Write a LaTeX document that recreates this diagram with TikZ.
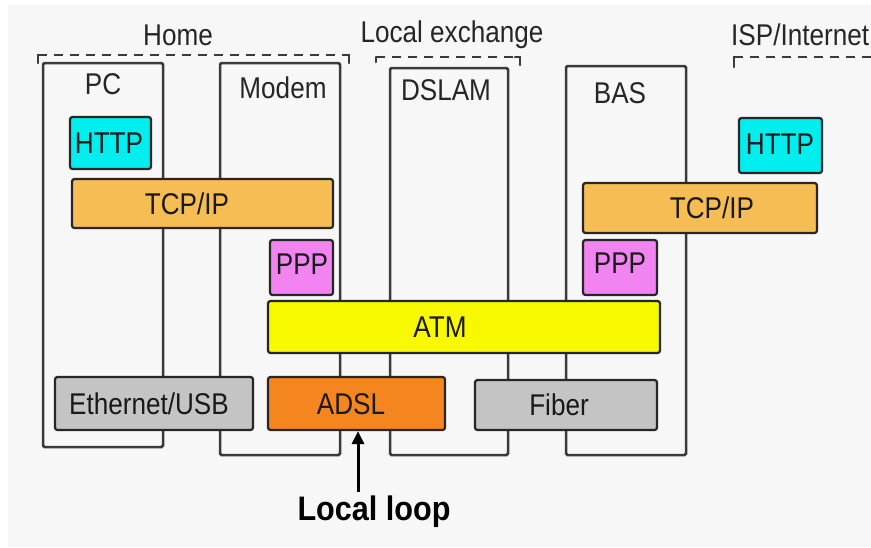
\documentclass[tikz,border=0pt]{standalone}
\usepackage{fontspec}
\setmainfont{Liberation Sans}
\newfontfamily\narrowfont[FakeStretch=0.87]{Liberation Sans}
\newfontfamily\narrowbold[FakeStretch=0.9]{Liberation Sans Bold}
\usetikzlibrary{arrows.meta}
\definecolor{bgc}{HTML}{F7F7F7}
\definecolor{linec}{HTML}{3A3A3A}
\definecolor{httpc}{HTML}{00EEEE}
\definecolor{tcpc}{HTML}{F6BD55}
\definecolor{pppc}{HTML}{F184F1}
\definecolor{atmc}{HTML}{F8F800}
\definecolor{adslc}{HTML}{F5851F}
\definecolor{grayc}{HTML}{C4C4C4}
\begin{document}
\begin{tikzpicture}[x=1pt,y=-1pt,
  device/.style={draw=linec, line width=2.5pt, rounded corners=1.5pt, inner sep=0pt},
  layer/.style={draw=black!85, line width=2.2pt, rounded corners=2.5pt, inner sep=0pt},
  txt/.style={inner sep=0pt, font=\narrowfont\fontsize{30}{32}\selectfont, text=black!90},
  dev/.style={inner sep=0pt, font=\narrowfont\fontsize{30}{32}\selectfont, text=black!85},
  bracket/.style={draw=linec, line width=2.5pt, dash pattern=on 9pt off 7pt},
  hook/.style={draw=linec, line width=2.5pt, line cap=round}]
\useasboundingbox (0,0) rectangle (871,547);
\fill[white] (0,0) rectangle (871,547);
\fill[bgc] (8,5) rectangle (871,547);

% region brackets
\coordinate (h1) at (38,55); \coordinate (h2) at (349,55);
\coordinate (l1) at (376,57); \coordinate (l2) at (520,57);
\coordinate (i1) at (734,57); \coordinate (i2) at (871,57);
\draw[bracket] (h1) -- (h2);
\draw[hook] (h1) ++(0,8) -- (h1) -- ++(5,0);
\draw[hook] (h2) ++(0,8) -- (h2) -- ++(-5,0);
\draw[bracket] (l1) -- (l2);
\draw[hook] (l1) ++(0,5) -- (l1);
\draw[hook] (l2) ++(0,8) -- (l2) -- ++(-5,0);
\draw[bracket] (i1) -- (i2);
\draw[hook] (i1) ++(0,10) -- (i1) -- ++(5,0);
\node[dev] (home) at (178,35) {Home};
\node[dev] (lex) at (452,35) {Local exchange};
\node[dev, anchor=west] (isp) at (731,35) {ISP/Internet};

% devices
\node[device, minimum width=120pt, minimum height=384pt] (pc) at (103,255) {};
\node[device, minimum width=120pt, minimum height=392pt] (modem) at (280,259) {};
\node[device, minimum width=118pt, minimum height=387pt] (dslam) at (449,261.5) {};
\node[device, minimum width=120pt, minimum height=389pt] (bas) at (626,260.5) {};
\node[dev] (pcl) at (103,84) {PC};
\node[dev] (modeml) at (283,88) {Modem};
\node[dev] (dslaml) at (446,90) {DSLAM};
\node[dev] (basl) at (620,93) {BAS};

% layers
\node[layer, fill=httpc, minimum width=81pt, minimum height=52pt] (httpL) at (110.5,143) {};
\node[layer, fill=tcpc, minimum width=261pt, minimum height=49pt] (tcpL) at (202.5,203.5) {};
\node[layer, fill=pppc, minimum width=63pt, minimum height=55pt] (pppL) at (301.5,267.5) {};
\node[layer, fill=atmc, minimum width=392pt, minimum height=52pt] (atm) at (464,327) {};
\node[layer, fill=grayc, minimum width=198pt, minimum height=53pt] (eth) at (154,403.5) {};
\node[layer, fill=adslc, minimum width=177pt, minimum height=53pt] (adsl) at (356.5,403.5) {};
\node[layer, fill=grayc, minimum width=182pt, minimum height=50pt] (fiber) at (566,405) {};
\node[layer, fill=httpc, minimum width=83pt, minimum height=55pt] (httpR) at (780.5,145.5) {};
\node[layer, fill=tcpc, minimum width=234pt, minimum height=50pt] (tcpR) at (700,208) {};
\node[layer, fill=pppc, minimum width=74pt, minimum height=55pt] (pppR) at (620,267.5) {};

\node[txt] (httpLt) at (109,143) {HTTP};
\node[txt] (tcpLt) at (187,204) {TCP/IP};
\node[txt] (pppLt) at (302,264) {PPP};
\node[txt] (atmt) at (440,327) {ATM};
\node[txt] (etht) at (149,404) {Ethernet/USB};
\node[txt] (adslt) at (351,404) {ADSL};
\node[txt] (fibert) at (559,405) {Fiber};
\node[txt] (httpRt) at (780,144) {HTTP};
\node[txt] (tcpRt) at (712,208) {TCP/IP};
\node[txt] (pppRt) at (620,263) {PPP};

% local loop
\node[inner sep=0pt, font=\narrowbold\fontsize{34}{36}\selectfont] (loop) at (374,512) {Local loop};
\coordinate (lp) at (358,492);
\draw[line width=3pt, -{Triangle[width=12pt,length=13pt]}] (lp) -- (lp |- adsl.south);
\end{tikzpicture}
\end{document}
